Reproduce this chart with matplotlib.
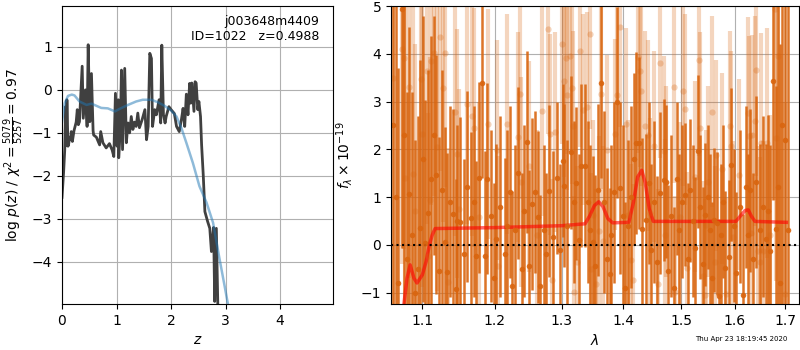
import numpy as np
import matplotlib
matplotlib.use("Agg")
import matplotlib.pyplot as plt
from matplotlib.ticker import FixedLocator, FixedFormatter, NullLocator

# --------------------------------------------------
# p(z)
# --------------------------------------------------
z_pz = [0.00, 0.01, 0.03, 0.05, 0.067, 0.08, 0.09, 0.11, 0.12, 0.14, 0.16, 0.17, 0.19,
        0.22, 0.26, 0.28, 0.30, 0.32, 0.37, 0.39, 0.43, 0.46, 0.48, 0.51, 0.54, 0.57,
        0.58, 0.63, 0.69, 0.71, 0.75, 0.81, 0.87, 0.92, 0.95, 0.98, 1.01, 1.03, 1.04,
        1.07, 1.09, 1.11, 1.15, 1.18, 1.21, 1.24, 1.27, 1.30, 1.33, 1.36, 1.39, 1.42,
        1.47, 1.52, 1.55, 1.58, 1.61, 1.64, 1.66, 1.70, 1.73, 1.78, 1.81, 1.83, 1.86,
        1.89, 1.91, 1.96, 2.00, 2.06, 2.10, 2.15, 2.19, 2.22, 2.25, 2.28, 2.31, 2.34,
        2.36, 2.38, 2.42, 2.44, 2.46, 2.49, 2.51, 2.54, 2.56, 2.59, 2.62, 2.67, 2.71,
        2.74, 2.78, 2.80, 2.83, 2.86]
logp = [-2.50, -2.30, -1.90, -1.40, -0.39, -1.30, -0.23, -1.31, -1.28, -1.10, -1.16, -0.97,
        -1.20, -0.95, -0.75, -0.46, -0.81, -0.74, 0.55, -0.66, 0.00, -0.85, 1.05, -0.74,
        0.38, -0.95, -1.05, -1.10, -1.28, -0.97, -1.23, -1.35, -1.25, -1.40, -1.55, -0.08,
        -1.31, -0.23, -1.58, -0.90, 0.46, -1.39, 0.50, -1.23, -0.77, -1.00, -0.62, -0.92,
        -0.75, -0.85, -0.54, -0.88, -0.69, -0.46, -1.16, -0.85, 0.85, 0.73, -0.85, -0.46,
        -0.58, -0.23, -0.77, 1.04, -0.58, -0.77, -0.62, -0.39, -0.46, -0.55, -0.85, -0.97,
        -0.69, -0.43, -0.85, -0.10, -0.58, 0.15, -0.31, 0.16, -0.50, 0.19, 0.16, -0.46,
        -0.27, -0.62, -1.28, -1.98, -2.83, -3.06, -3.22, -3.76, -3.20, -4.92, -3.22, -5.20]

z_prior = [0.00, 0.05, 0.11, 0.18, 0.23, 0.32, 0.45, 0.54, 0.63, 0.72, 0.84, 0.97, 1.06,
           1.21, 1.36, 1.48, 1.64, 1.76, 1.88, 2.00, 2.10, 2.19, 2.28, 2.40, 2.52, 2.65,
           2.77, 2.89, 2.98, 3.06]
logp_prior = [-0.75, -0.31, -0.14, -0.11, -0.13, -0.27, -0.35, -0.32, -0.37, -0.42, -0.43,
              -0.50, -0.44, -0.35, -0.27, -0.23, -0.23, -0.29, -0.37, -0.48, -0.62, -0.89,
              -1.23, -1.70, -2.24, -2.62, -3.09, -3.94, -4.55, -5.10]

# --------------------------------------------------
# spettro (punti scuri)
# --------------------------------------------------
wave_a = [1.062, 1.066, 1.069, 1.073, 1.076, 1.080, 1.083, 1.087, 1.090, 1.094, 1.097, 1.101,
          1.104, 1.108, 1.112, 1.116, 1.118, 1.122, 1.126, 1.130, 1.133, 1.137, 1.141, 1.145,
          1.147, 1.151, 1.156, 1.160, 1.166, 1.170, 1.173, 1.178, 1.182, 1.186, 1.189, 1.194,
          1.198, 1.202, 1.207, 1.214, 1.218, 1.222, 1.225, 1.230, 1.234, 1.239, 1.243, 1.247,
          1.250, 1.254, 1.259, 1.263, 1.267, 1.272, 1.276, 1.280, 1.287, 1.292, 1.297, 1.302,
          1.304, 1.309, 1.315, 1.319, 1.323, 1.327, 1.331, 1.337, 1.342, 1.345, 1.349, 1.353,
          1.358, 1.363, 1.368, 1.373, 1.377, 1.380, 1.384, 1.390, 1.394, 1.399, 1.403, 1.408,
          1.413, 1.417, 1.422, 1.426, 1.431, 1.438, 1.443, 1.447, 1.452, 1.457, 1.463, 1.469,
          1.473, 1.477, 1.482, 1.487, 1.492, 1.496, 1.501, 1.507, 1.512, 1.516, 1.521, 1.526,
          1.531, 1.535, 1.540, 1.544, 1.549, 1.553, 1.556, 1.560, 1.566, 1.569, 1.574, 1.578,
          1.582, 1.588, 1.593, 1.598, 1.603, 1.609, 1.615, 1.621, 1.626, 1.630, 1.636, 1.642,
          1.649, 1.655, 1.660, 1.665, 1.669, 1.675, 1.680, 1.684, 1.689, 1.694, 1.700, 1.705]
flux_a = [2.5, 1.0, -0.8, 4.94, 2.29, -0.3, 1.06, 0.2, -1.0, -0.50, 0.36, 1.8,
          0.03, 0.66, 1.38, 2.29, 1.47, -0.55, 1.15, 0.06, -0.57, 0.9, 0.64, -0.93,
          0.50, 0.47, -0.2, 1.22, 0.56, 0.9, -0.24, 1.40, 3.39, -0.23, 1.38, 0.6,
          -0.7, 0.12, 0.8, -0.19, 0.40, 1.1, -0.87, 0.3, 1.5, -0.5, 0.7, 2.15,
          -0.44, 0.86, 1.10, 0.58, -0.86, 0.3, -0.2, 1.13, 0.17, 1.40, -0.1, 1.76,
          1.24, 0.4, 1.94, 0.9, 1.29, 0.1, 1.66, 1.66, 0.9, 0.3, 0.05, -0.44,
          1.14, 3.39, 0.9, -0.30, -0.61, 0.2, 1.10, 2.98, 1.19, 0.6, -0.9, 0.4,
          1.0, 1.8, 2.13, 2.14, 0.34, 0.52, 1.3, -0.1, 0.9, -0.35, 1.08, 1.36,
          1.32, -0.54, 0.6, -0.9, 1.38, 0.31, 0.9, 1.05, -0.3, 1.14, 0.5, -0.07,
          1.96, 0.79, -0.4, 0.63, 1.0, 0.31, -0.7, 0.52, 0.45, -1.07, 0.20, 0.9,
          -0.48, -0.25, 1.68, 0.4, -0.6, 0.8, -1.06, 1.21, 0.2, 1.14, -0.3, 1.31,
          0.31, 0.8, 0.12, 0.71, -0.12, 3.44, 0.33, 1.2, -0.80, 2.5, 2.20, 0.30]
err_a = [5.0, 5.0, 4.5, 5.0, 4.0, 3.5, 3.5, 3.0, 3.2, 3.2, 3.5, 3.0,
         3.0, 3.0, 3.0, 2.5, 2.5, 2.8, 2.5, 2.4, 2.5, 2.0, 2.2, 2.3,
         2.0, 2.2, 2.0, 2.0, 1.8, 2.0, 2.0, 2.0, 2.0, 2.2, 2.0, 1.8,
         2.0, 2.0, 1.9, 2.0, 2.0, 1.8, 2.0, 1.8, 1.8, 2.0, 1.8, 1.9,
         2.0, 1.8, 1.7, 1.8, 1.9, 1.8, 1.7, 1.8, 1.8, 1.6, 1.8, 1.6,
         1.7, 1.8, 1.6, 1.7, 1.6, 1.8, 1.7, 1.7, 1.7, 1.8, 1.8, 1.9,
         1.8, 2.0, 1.9, 1.9, 1.8, 1.9, 1.9, 2.0, 1.8, 1.9, 1.8, 1.8,
         1.9, 1.8, 1.9, 1.8, 1.9, 1.8, 1.7, 1.8, 1.7, 1.8, 1.7, 1.7,
         1.6, 1.8, 1.7, 1.7, 1.6, 1.6, 1.6, 1.5, 1.6, 1.5, 1.6, 1.5,
         1.6, 1.5, 1.6, 1.5, 1.5, 1.6, 1.6, 1.5, 1.5, 1.6, 1.5, 1.6,
         1.6, 1.6, 1.6, 1.6, 1.7, 1.6, 1.7, 1.7, 1.7, 1.7, 1.8, 1.8,
         1.8, 1.9, 2.0, 2.0, 2.2, 2.5, 3.0, 4.0, 5.0, 6.0, 6.0, 6.0]

# --------------------------------------------------
# spettro (punti chiari)
# --------------------------------------------------
wave_b = [1.062, 1.073, 1.076, 1.078, 1.083, 1.088, 1.091, 1.098, 1.100, 1.106, 1.108, 1.110,
          1.111, 1.115, 1.120, 1.124, 1.127, 1.130, 1.134, 1.144, 1.147, 1.150, 1.160, 1.168,
          1.171, 1.178, 1.190, 1.203, 1.204, 1.218, 1.234, 1.236, 1.238, 1.250, 1.262, 1.270,
          1.279, 1.282, 1.285, 1.289, 1.300, 1.304, 1.307, 1.309, 1.313, 1.316, 1.318, 1.320,
          1.324, 1.329, 1.333, 1.340, 1.345, 1.346, 1.350, 1.354, 1.360, 1.363, 1.366, 1.373,
          1.386, 1.389, 1.394, 1.404, 1.408, 1.413, 1.416, 1.425, 1.428, 1.430, 1.437, 1.441,
          1.445, 1.452, 1.460, 1.463, 1.469, 1.471, 1.474, 1.488, 1.490, 1.499, 1.503, 1.508,
          1.511, 1.525, 1.533, 1.535, 1.540, 1.543, 1.546, 1.549, 1.556, 1.562, 1.564, 1.576,
          1.583, 1.590, 1.593, 1.597, 1.608, 1.625, 1.628, 1.632, 1.634, 1.640, 1.642, 1.646,
          1.648, 1.650, 1.655, 1.663, 1.669, 1.678, 1.680, 1.684, 1.700]
flux_b = [3.5, 4.09, 3.91, 1.40, 3.31, 1.48, 0.71, 3.47, 2.31, 3.63, -0.24, 0.94,
          3.84, 4.02, 2.04, 4.35, 3.28, 4.02, -0.77, 2.79, 1.91, 0.76, 2.94, 2.69,
          2.45, 0.59, 2.53, 1.99, -0.45, 2.53, 2.25, 3.16, 1.32, 1.64, 0.2, 2.8,
          4.51, 2.31, -0.73, 2.36, 4.21, 3.42, 3.91, 3.14, 3.95, 3.28, 2.48, -0.98,
          -0.36, 4.05, 2.83, 2.88, 4.42, -0.50, 0.62, -0.83, 0.28, 3.16, 0.07, 1.98,
          2.31, 3.14, 4.56, 2.53, 0.62, -0.31, -0.73, 3.93, 3.63, 3.23, 2.48, 2.29,
          0.66, 2.06, -0.83, 3.81, 1.96, 0.21, 1.32, 3.30, -0.98, 0.58, 3.23, 2.84,
          -0.48, 1.43, 3.86, 2.45, -0.66, -1.05, 0.41, 1.32, 2.79, -0.36, 1.87, 1.59,
          -1.02, 2.48, 2.06, 0.17, 1.47, 2.76, 2.27, 0.24, 2.29, 2.59, 3.65, -0.13,
          -0.36, 2.13, -0.13, 2.13, 0.21, 4.93, 2.24, 3.95, -1.02]
err_b = [5.0, 4.5, 4.0, 4.0, 4.0, 3.5, 3.5, 3.5, 3.2, 3.2, 3.0, 3.0,
         3.0, 3.0, 3.0, 2.8, 2.8, 2.8, 2.8, 2.6, 2.6, 2.5, 2.5, 2.5,
         2.5, 2.4, 2.4, 2.3, 2.3, 2.3, 2.2, 2.2, 2.2, 2.2, 2.2, 2.2,
         2.2, 2.1, 2.1, 2.1, 2.1, 2.0, 2.0, 2.0, 2.0, 2.0, 2.0, 2.0,
         2.0, 2.0, 2.0, 2.0, 2.0, 2.0, 2.0, 2.0, 2.0, 2.0, 2.0, 2.0,
         2.0, 2.0, 2.1, 2.0, 2.0, 2.0, 2.0, 2.0, 2.0, 2.0, 2.0, 2.0,
         2.0, 2.0, 2.0, 2.0, 2.0, 2.0, 2.0, 2.0, 2.0, 2.0, 2.0, 2.0,
         2.0, 2.0, 2.0, 2.0, 2.0, 2.0, 2.0, 2.0, 2.0, 2.0, 2.0, 2.0,
         2.0, 2.0, 2.0, 2.0, 2.0, 2.0, 2.1, 2.1, 2.1, 2.2, 2.2, 2.2,
         2.2, 2.3, 2.3, 2.4, 2.5, 4.0, 3.0, 4.0, 4.0]

# modello
wave_m = [1.070, 1.076, 1.080, 1.084, 1.089, 1.093, 1.100, 1.105, 1.109, 1.113, 1.117, 1.20,
          1.30, 1.337, 1.345, 1.352, 1.359, 1.366, 1.374, 1.382, 1.409, 1.417, 1.424, 1.431,
          1.437, 1.444, 1.451, 1.602, 1.612, 1.620, 1.626, 1.632, 1.639, 1.702]
flux_m = [-2.0, -1.24, -0.70, -0.42, -0.70, -0.80, -0.63, -0.35, -0.03, 0.20, 0.34, 0.36,
          0.40, 0.44, 0.62, 0.82, 0.90, 0.80, 0.55, 0.46, 0.47, 0.90, 1.42, 1.56,
          1.30, 0.75, 0.49, 0.49, 0.62, 0.72, 0.73, 0.60, 0.49, 0.47]

arancio = "#d9650f"

fig = plt.figure(figsize=(8, 3.5), dpi=100)

# ---------------- pannello p(z) ----------------
ax1 = fig.add_axes([0.0775, 0.1314, 0.3388, 0.8514])
ax1.plot(z_pz, logp, color="0.25", lw=2)
ax1.plot(z_prior, logp_prior, color="tab:blue", alpha=0.5, lw=1.8)
ax1.set_xlim(0, 4.97)
ax1.set_ylim(-4.98, 1.95)
ax1.set_yticks([-4, -3, -2, -1, 0, 1])
ax1.grid(True)
ax1.set_xlabel("$z$")
ax1.set_ylabel(r"$\log\,p(z)$ / $\chi^2=\frac{5079}{5257}=0.97$")
ax1.text(0.95, 0.97, "j003648m4409\nID=1022   z=0.4988", transform=ax1.transAxes,
         ha="right", va="top", fontsize=9)

# ---------------- pannello spettro ----------------
ax2 = fig.add_axes([0.4888, 0.1314, 0.51, 0.8514])
ax2.errorbar(wave_b, flux_b, yerr=err_b, fmt="o", color=arancio, alpha=0.27,
             ms=4.5, elinewidth=3, capsize=0, mew=0)
ax2.errorbar(wave_a, flux_a, yerr=err_a, fmt="o", color=arancio, alpha=0.9,
             ms=4, elinewidth=1.8, capsize=0, mew=0)
ax2.plot(wave_m, flux_m, color="red", alpha=0.6, lw=2.5)
ax2.axhline(0, color="k", ls=":", lw=1.5)
ax2.set_xscale("log")
ax2.set_xlim(1.0595, 1.728)
ax2.set_ylim(-1.24, 5)
ticks = [1.1, 1.2, 1.3, 1.4, 1.5, 1.6, 1.7]
ax2.xaxis.set_major_locator(FixedLocator(ticks))
ax2.xaxis.set_major_formatter(FixedFormatter([f"{t:.1f}" for t in ticks]))
ax2.xaxis.set_minor_locator(NullLocator())
ax2.grid(True)
ax2.set_xlabel(r"$\lambda$")
ax2.set_ylabel(r"$f_\lambda\times10^{-19}$")

fig.text(0.927, 0.03, "Thu Apr 23 18:19:45 2020", ha="center", va="center", fontsize=5)

fig.savefig("out.png", dpi=100)
